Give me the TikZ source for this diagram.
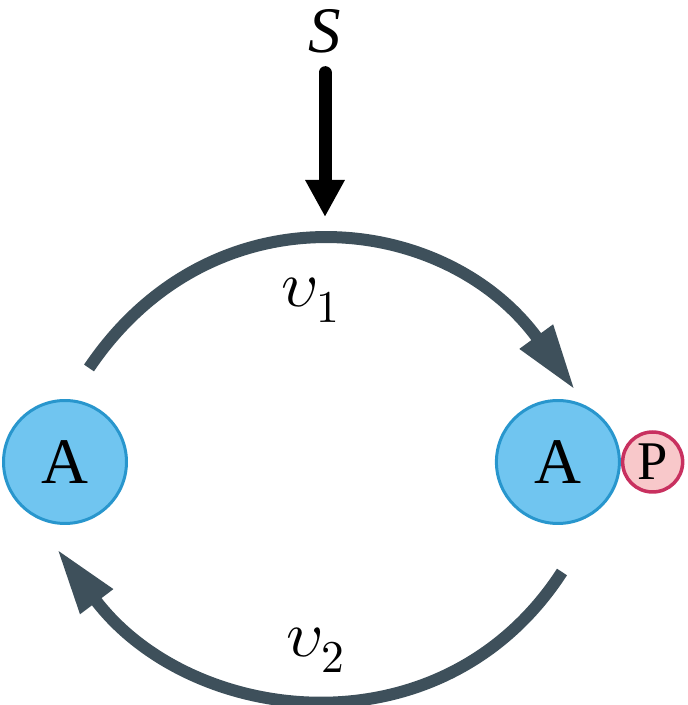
\documentclass[tikz,border=0pt]{standalone}
\usepackage{fontspec}
\usepackage{unicode-math}
\setmainfont{Liberation Serif}
\newfontfamily\timesfont{Liberation Serif}
\usetikzlibrary{arrows.meta, positioning}

\definecolor{slate}{RGB}{62,80,91}
\definecolor{molfill}{RGB}{112,197,240}
\definecolor{molline}{RGB}{40,150,205}
\definecolor{phosfill}{RGB}{248,200,202}
\definecolor{phosline}{RGB}{200,48,95}

\begin{document}
\begin{tikzpicture}[x=0.02cm, y=0.02cm]
    \tikzset{
        mol/.style = {circle, draw=molline, fill=molfill, line width=0.06cm, minimum size=2.46cm, inner sep=0pt, font=\timesfont\fontsize{37}{40}\selectfont},
        phos/.style = {circle, draw=phosline, fill=phosfill, line width=0.07cm, minimum size=1.2cm, inner sep=0pt, font=\timesfont\fontsize{31}{34}\selectfont},
        lab/.style = {inner sep=0pt, font=\timesfont\fontsize{37}{40}\selectfont},
        flow/.style = {draw=slate, line width=0.24cm, -{Triangle[length=1.32cm, width=0.76cm]}},
        signal/.style = {draw=black, line width=0.26cm, line cap=round, -{Triangle[length=0.74cm, width=0.74cm]}}
    }
    \useasboundingbox (0,0) rectangle (687,705);

    \node[mol](A) at (65,243){A};
    \node[mol](AP)[right = 7.34cm of A]{A};
    \node[phos](P)[right = 0cm of AP]{P};

    \node[lab](S) at (325,674){\textit{S}};
    \coordinate (hit) at (325,488);

    \node[lab](v1) at (311,405){$\upsilon_1$};
    \node[lab](v2) at (316,55){$\upsilon_2$};

    \coordinate (v1s) at (89,337);
    \coordinate (v1e) at (575,315);
    \coordinate (v2s) at (562,133);
    \coordinate (v2e) at (57,156);

    \path [signal, shorten <=0.39cm] (S) -- (hit);
    \path [flow] (v1s) to[out=56, in=126, looseness=1.16] (v1e);
    \path [flow] (v2s) to[out=237, in=307, looseness=1.12] (v2e);

\end{tikzpicture}
\end{document}
